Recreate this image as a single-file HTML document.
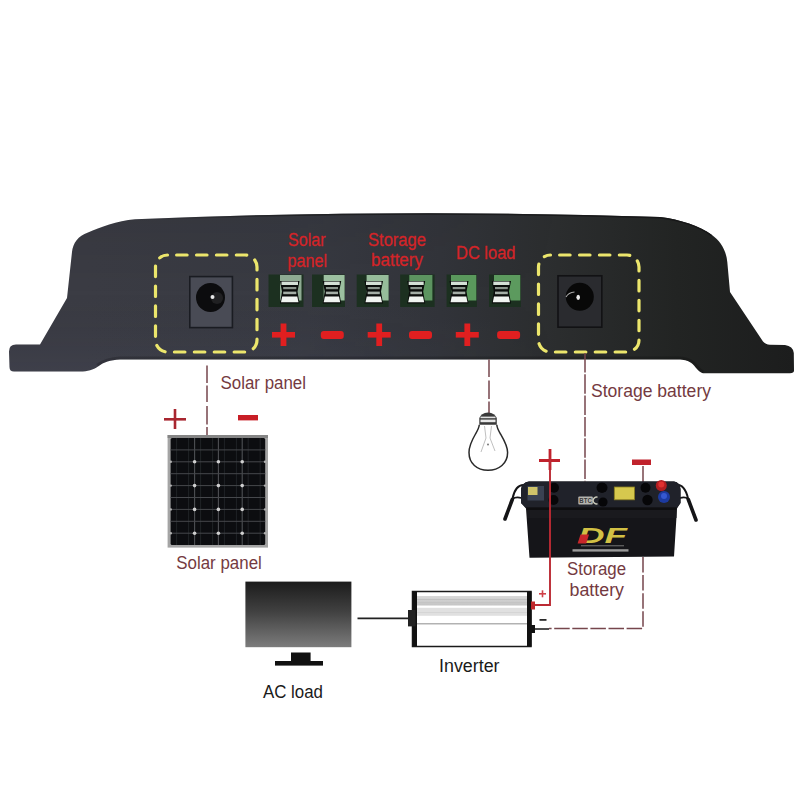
<!DOCTYPE html>
<html><head><meta charset="utf-8">
<style>
html,body{margin:0;padding:0;background:#fff;width:800px;height:800px;overflow:hidden}
svg{display:block}
text{font-family:"Liberation Sans",sans-serif}
</style></head>
<body>
<svg width="800" height="800" viewBox="0 0 800 800">
<defs>
<clipPath id="bodyclip"><path d="M9.5 367 L9 351.5 Q9 344.5 16 344.5 L40 344.5 L67 298 L72 252 C73 243 78 236 88 232.5 C100 227 117 221 135 219.2 Q400 208.5 660 217 C680 219.5 700 226 712 235 C720 241 726 249 727.3 262 L730 292 L763 341.5 Q765.5 344.6 770 344.7 L785 345 Q793 346 793.8 353 L794 370.5 Q794 373.3 790 373.3 L703 373.3 C698 372 695.5 366 691 362.8 C687.5 360.4 684 359.6 678 359.5 L120 359.5 C110 360 104 362 98 366.5 C93 370 88 371.5 80 371.5 L14 371.5 Q9.5 371.5 9.5 367 Z"/></clipPath>
<linearGradient id="bodyg" x1="0" y1="0" x2="1" y2="0">
<stop offset="0.1" stop-color="#3b3c44"/>
<stop offset="0.38" stop-color="#383a42"/>
<stop offset="0.55" stop-color="#32343a"/>
<stop offset="0.7" stop-color="#2b2d2e"/>
<stop offset="0.85" stop-color="#222423"/>
<stop offset="1" stop-color="#1c1d1d"/>
</linearGradient>
<linearGradient id="topg" gradientUnits="userSpaceOnUse" x1="135" y1="0" x2="705" y2="0">
<stop offset="0" stop-color="#1e1f21" stop-opacity="0"/>
<stop offset="0.3" stop-color="#1e1f21" stop-opacity="0.9"/>
<stop offset="1" stop-color="#161617" stop-opacity="1"/>
</linearGradient>
<linearGradient id="bodyv" x1="0" y1="0" x2="0" y2="1">
<stop offset="0" stop-color="#000" stop-opacity="0.07"/>
<stop offset="0.5" stop-color="#000" stop-opacity="0"/>
<stop offset="1" stop-color="#6a70a0" stop-opacity="0.08"/>
</linearGradient>
<linearGradient id="lmg" gradientUnits="userSpaceOnUse" x1="0" y1="0" x2="560" y2="0">
<stop offset="0" stop-color="#fff"/><stop offset="0.5" stop-color="#fff"/><stop offset="1" stop-color="#000"/>
</linearGradient>
<mask id="leftmask" maskUnits="userSpaceOnUse" x="0" y="0" width="800" height="800"><rect width="800" height="800" fill="url(#lmg)"/></mask>
<linearGradient id="invg1" x1="0" y1="0" x2="0" y2="1">
<stop offset="0" stop-color="#d8d8d8"/><stop offset="1" stop-color="#c4c4c4"/>
</linearGradient>
<linearGradient id="mong" x1="0" y1="0" x2="0" y2="1">
<stop offset="0" stop-color="#1c1c1c"/>
<stop offset="0.45" stop-color="#404040"/>
<stop offset="1" stop-color="#7c7c7c"/>
</linearGradient>
<linearGradient id="termg" x1="0" y1="0" x2="0" y2="1">
<stop offset="0" stop-color="#e8ece8"/>
<stop offset="1" stop-color="#9aa09a"/>
</linearGradient>
</defs>
<rect width="800" height="800" fill="#fff"/>

<!-- controller body -->
<path d="M9.5 367 L9 351.5 Q9 344.5 16 344.5 L40 344.5 L67 298 L72 252 C73 243 78 236 88 232.5 C100 227 117 221 135 219.2 Q400 208.5 660 217 C680 219.5 700 226 712 235 C720 241 726 249 727.3 262 L730 292 L763 341.5 Q765.5 344.6 770 344.7 L785 345 Q793 346 793.8 353 L794 370.5 Q794 373.3 790 373.3 L703 373.3 C698 372 695.5 366 691 362.8 C687.5 360.4 684 359.6 678 359.5 L120 359.5 C110 360 104 362 98 366.5 C93 370 88 371.5 80 371.5 L14 371.5 Q9.5 371.5 9.5 367 Z" fill="url(#bodyg)"/>
<path d="M9.5 367 L9 351.5 Q9 344.5 16 344.5 L40 344.5 L67 298 L72 252 C73 243 78 236 88 232.5 C100 227 117 221 135 219.2 Q400 208.5 660 217 C680 219.5 700 226 712 235 C720 241 726 249 727.3 262 L730 292 L763 341.5 Q765.5 344.6 770 344.7 L785 345 Q793 346 793.8 353 L794 370.5 Q794 373.3 790 373.3 L703 373.3 C698 372 695.5 366 691 362.8 C687.5 360.4 684 359.6 678 359.5 L120 359.5 C110 360 104 362 98 366.5 C93 370 88 371.5 80 371.5 L14 371.5 Q9.5 371.5 9.5 367 Z" fill="url(#bodyv)" mask="url(#leftmask)"/>
<path d="M98 366.5 C104 362 110 360 120 359.5 L678 359.5 C684 359.6 687.5 360.4 691 362.8 C695.5 366 698 372 703 373.3" fill="none" stroke="#000" stroke-opacity="0.18" stroke-width="6" clip-path="url(#bodyclip)"/>
<path d="M135 219.2 Q400 208.5 660 217 C680 219.5 700 226 712 235" fill="none" stroke="url(#topg)" stroke-width="3" clip-path="url(#bodyclip)"/>

<!-- yellow dashed boxes -->
<rect x="155.5" y="255" width="101.5" height="97" rx="12" fill="none" stroke="#ece66c" stroke-width="3.2" stroke-linecap="round" stroke-dasharray="10.5 9.41" stroke-dashoffset="10.8"/>
<rect x="538.5" y="255" width="100.5" height="97" rx="12" fill="none" stroke="#ece66c" stroke-width="3.2" stroke-linecap="round" stroke-dasharray="10.5 9.41" stroke-dashoffset="10.8"/>

<!-- DC jacks -->
<rect x="189.8" y="276.6" width="42.6" height="51" fill="#494b55" stroke="#1a1c22" stroke-width="1.6"/>
<circle cx="210.5" cy="297.5" r="14.5" fill="#0c0c0e"/>
<circle cx="217" cy="298" r="6" fill="#202022"/>
<circle cx="212.5" cy="297" r="2" fill="#e8e8e8"/>
<rect x="558" y="275.8" width="43.8" height="51.4" fill="#2a2b2f" stroke="#121214" stroke-width="1.6"/>
<circle cx="579.8" cy="296.8" r="14" fill="#080808"/>
<ellipse cx="578.2" cy="297.3" rx="1.8" ry="2.6" fill="#ececec"/>
<path d="M566 297 Q568.5 292.5 574.5 292" stroke="#a8a8a8" stroke-width="1.1" fill="none"/>

<!-- terminals -->
<g id="terms">
<rect x="268.5" y="274.5" width="35.0" height="32.5" fill="#1c3020"/>
<rect x="280" y="275" width="21.5" height="25.5" fill="#8eaa92"/>
<path d="M280.0 281 H299.5 L297.5 291.5 L299.5 303.5 H280.0 L282.0 291.5 Z" fill="#0a0d0b"/>
<rect x="281.5" y="281.6" width="16.5" height="3.4" fill="#d4e0d6"/>
<rect x="283.2" y="287" width="13.1" height="2.2" fill="#8a948c"/>
<rect x="283.2" y="291.6" width="13.1" height="2.6" fill="#a4aea6"/>
<path d="M282.2 296.4 H297.3 L298.5 302.2 H281.0 Z" fill="#f0f4f0"/>
<rect x="312" y="274.5" width="33.0" height="32.5" fill="#1c3020"/>
<rect x="323.7" y="275" width="20.9" height="25.5" fill="#9cc0a0"/>
<path d="M322.7 281 H341.2 L339.2 291.5 L341.2 303.5 H322.7 L324.7 291.5 Z" fill="#0a0d0b"/>
<rect x="324.2" y="281.6" width="15.5" height="3.4" fill="#d4e0d6"/>
<rect x="325.9" y="287" width="12.1" height="2.2" fill="#8a948c"/>
<rect x="325.9" y="291.6" width="12.1" height="2.6" fill="#a4aea6"/>
<path d="M324.9 296.4 H339.0 L340.2 302.2 H323.7 Z" fill="#f0f4f0"/>
<rect x="356.7" y="274.5" width="31.9" height="32.5" fill="#1c3020"/>
<rect x="366.6" y="275" width="22.0" height="25.5" fill="#96bc9a"/>
<path d="M364.5 281 H383.0 L381.0 291.5 L383.0 303.5 H364.5 L366.5 291.5 Z" fill="#0a0d0b"/>
<rect x="366.0" y="281.6" width="15.5" height="3.4" fill="#d4e0d6"/>
<rect x="367.7" y="287" width="12.1" height="2.2" fill="#8a948c"/>
<rect x="367.7" y="291.6" width="12.1" height="2.6" fill="#a4aea6"/>
<path d="M366.7 296.4 H380.8 L382.0 302.2 H365.5 Z" fill="#f0f4f0"/>
<rect x="400.2" y="274.5" width="34.4" height="32.5" fill="#1c3020"/>
<rect x="409.3" y="275" width="23.1" height="25.5" fill="#5c9460"/>
<path d="M407.2 281 H425.2 L423.2 291.5 L425.2 303.5 H407.2 L409.2 291.5 Z" fill="#0a0d0b"/>
<rect x="408.7" y="281.6" width="15.0" height="3.4" fill="#d4e0d6"/>
<rect x="410.4" y="287" width="11.6" height="2.2" fill="#8a948c"/>
<rect x="410.4" y="291.6" width="11.6" height="2.6" fill="#a4aea6"/>
<path d="M409.4 296.4 H423.0 L424.2 302.2 H408.2 Z" fill="#f0f4f0"/>
<rect x="446.6" y="274.5" width="30.3" height="32.5" fill="#1c3020"/>
<rect x="451" y="275" width="25.3" height="25.5" fill="#5a985c"/>
<path d="M449.5 281 H468.5 L466.5 291.5 L468.5 303.5 H449.5 L451.5 291.5 Z" fill="#0a0d0b"/>
<rect x="451.0" y="281.6" width="16.0" height="3.4" fill="#d4e0d6"/>
<rect x="452.7" y="287" width="12.6" height="2.2" fill="#8a948c"/>
<rect x="452.7" y="291.6" width="12.6" height="2.6" fill="#a4aea6"/>
<path d="M451.7 296.4 H466.3 L467.5 302.2 H450.5 Z" fill="#f0f4f0"/>
<rect x="489" y="274.5" width="31.9" height="32.5" fill="#1c3020"/>
<rect x="494" y="275" width="26.3" height="25.5" fill="#5c9a5e"/>
<path d="M491.8 281 H511.0 L509.0 291.5 L511.0 303.5 H491.8 L493.8 291.5 Z" fill="#0a0d0b"/>
<rect x="493.3" y="281.6" width="16.2" height="3.4" fill="#d4e0d6"/>
<rect x="495.0" y="287" width="12.8" height="2.2" fill="#8a948c"/>
<rect x="495.0" y="291.6" width="12.8" height="2.6" fill="#a4aea6"/>
<path d="M494.0 296.4 H508.8 L510.0 302.2 H492.8 Z" fill="#f0f4f0"/>
</g>

<!-- controller labels -->
<g fill="#d42428" stroke="#d42428" stroke-width="0.3" font-size="18">
<text x="288" y="245.5" textLength="37.5" lengthAdjust="spacingAndGlyphs">Solar</text>
<text x="287.5" y="266.5" textLength="39.5" lengthAdjust="spacingAndGlyphs">panel</text>
<text x="368" y="245.5" textLength="58" lengthAdjust="spacingAndGlyphs">Storage</text>
<text x="371" y="266" textLength="52" lengthAdjust="spacingAndGlyphs">battery</text>
<text x="456" y="258.5" textLength="59.5" lengthAdjust="spacingAndGlyphs">DC load</text>
</g>

<!-- plus/minus on controller -->
<g fill="#e01f20">
<rect x="272.0" y="332" width="23" height="5.6"/><rect x="280.6" y="323.5" width="5.8" height="22.5"/>
<rect x="367.7" y="332" width="23" height="5.6"/><rect x="376.3" y="323.5" width="5.8" height="22.5"/>
<rect x="455.8" y="332" width="23" height="5.6"/><rect x="464.4" y="323.5" width="5.8" height="22.5"/>
<rect x="320.8" y="331" width="23" height="8" rx="3"/>
<rect x="409.0" y="331" width="23" height="8" rx="3"/>
<rect x="497.1" y="331" width="23" height="8" rx="3"/>
</g>

<!-- annotation dashed lines -->
<g stroke="#76464c" stroke-width="1.5" fill="none">
<path d="M207 365.5 V383 M207 385.5 V402 M207 406 V424.5 M207 427 V438"/>
<path d="M489 359.5 V377 M489 380.5 V399 M489 401.5 V413"/>
<path d="M585 353 V481.5" stroke-dasharray="19.5 1.8"/>
<path d="M643 466 V482"/>
<path d="M643 557 V628.5 H549" stroke-dasharray="15.5 2.6"/>
</g>
<!-- annotation text -->
<g fill="#743a41" font-size="17.5">
<text x="220.5" y="389.3" textLength="85.5" lengthAdjust="spacingAndGlyphs">Solar panel</text>
<text x="591" y="396.8" textLength="120" lengthAdjust="spacingAndGlyphs">Storage battery</text>
<text x="176.3" y="569" textLength="85.5" lengthAdjust="spacingAndGlyphs">Solar panel</text>
<text x="567" y="574.5" textLength="59" lengthAdjust="spacingAndGlyphs">Storage</text>
<text x="569.5" y="595.5" textLength="54.5" lengthAdjust="spacingAndGlyphs">battery</text>
</g>
<g fill="#1a1a1a" font-size="17.5">
<text x="439" y="671.5" textLength="60.5" lengthAdjust="spacingAndGlyphs">Inverter</text>
<text x="263" y="698" textLength="60" lengthAdjust="spacingAndGlyphs">AC load</text>
</g>

<!-- solar panel +/- -->
<g fill="#a82630">
<rect x="164" y="418" width="22" height="2.6"/><rect x="173.7" y="409" width="2.6" height="20"/>
<rect x="238" y="415" width="20" height="5.4" fill="#c81e26"/>
</g>
<!-- battery +/- -->
<g fill="#c0222c">
<rect x="539" y="459" width="21" height="3"/><rect x="548.6" y="449" width="2.8" height="21"/>
<rect x="632" y="459.5" width="19" height="5.5"/>
</g>

<!-- solar panel -->
<g id="panel">
<rect x="167.6" y="435" width="100.4" height="112.6" fill="#a4a4a4"/>
<rect x="167.6" y="435" width="100.4" height="3" fill="#858585"/>
<rect x="170.6" y="438" width="94.6" height="107" rx="1.5" fill="#0c0d10"/>
<line x1="176.6" y1="438" x2="176.6" y2="545" stroke="#25282c" stroke-width="0.8"/>
<line x1="188.6" y1="438" x2="188.6" y2="545" stroke="#25282c" stroke-width="0.8"/>
<line x1="200.6" y1="438" x2="200.6" y2="545" stroke="#25282c" stroke-width="0.8"/>
<line x1="212.6" y1="438" x2="212.6" y2="545" stroke="#25282c" stroke-width="0.8"/>
<line x1="224.4" y1="438" x2="224.4" y2="545" stroke="#25282c" stroke-width="0.8"/>
<line x1="236.4" y1="438" x2="236.4" y2="545" stroke="#25282c" stroke-width="0.8"/>
<line x1="248.2" y1="438" x2="248.2" y2="545" stroke="#25282c" stroke-width="0.8"/>
<line x1="260.2" y1="438" x2="260.2" y2="545" stroke="#25282c" stroke-width="0.8"/>
<line x1="194.6" y1="438" x2="194.6" y2="545" stroke="#4e5054" stroke-width="1.1"/>
<line x1="218.4" y1="438" x2="218.4" y2="545" stroke="#4e5054" stroke-width="1.1"/>
<line x1="242.2" y1="438" x2="242.2" y2="545" stroke="#4e5054" stroke-width="1.1"/>
<line x1="170.6" y1="449.9" x2="265.2" y2="449.9" stroke="#46484c" stroke-width="1"/>
<line x1="170.6" y1="461.8" x2="265.2" y2="461.8" stroke="#46484c" stroke-width="1"/>
<line x1="170.6" y1="473.7" x2="265.2" y2="473.7" stroke="#46484c" stroke-width="1"/>
<line x1="170.6" y1="485.6" x2="265.2" y2="485.6" stroke="#46484c" stroke-width="1"/>
<line x1="170.6" y1="497.5" x2="265.2" y2="497.5" stroke="#46484c" stroke-width="1"/>
<line x1="170.6" y1="509.4" x2="265.2" y2="509.4" stroke="#46484c" stroke-width="1"/>
<line x1="170.6" y1="521.3" x2="265.2" y2="521.3" stroke="#46484c" stroke-width="1"/>
<line x1="170.6" y1="533.2" x2="265.2" y2="533.2" stroke="#46484c" stroke-width="1"/>
<circle cx="194.6" cy="461.8" r="1.8" fill="#d0d0d0"/>
<circle cx="218.4" cy="461.8" r="1.8" fill="#d0d0d0"/>
<circle cx="242.2" cy="461.8" r="1.8" fill="#d0d0d0"/>
<circle cx="170.8" cy="461.8" r="1.2" fill="#b0b0b0"/>
<circle cx="265" cy="461.8" r="1.2" fill="#b0b0b0"/>
<circle cx="194.6" cy="485.6" r="1.8" fill="#d0d0d0"/>
<circle cx="218.4" cy="485.6" r="1.8" fill="#d0d0d0"/>
<circle cx="242.2" cy="485.6" r="1.8" fill="#d0d0d0"/>
<circle cx="170.8" cy="485.6" r="1.2" fill="#b0b0b0"/>
<circle cx="265" cy="485.6" r="1.2" fill="#b0b0b0"/>
<circle cx="194.6" cy="509.4" r="1.8" fill="#d0d0d0"/>
<circle cx="218.4" cy="509.4" r="1.8" fill="#d0d0d0"/>
<circle cx="242.2" cy="509.4" r="1.8" fill="#d0d0d0"/>
<circle cx="170.8" cy="509.4" r="1.2" fill="#b0b0b0"/>
<circle cx="265" cy="509.4" r="1.2" fill="#b0b0b0"/>
<circle cx="194.6" cy="533.2" r="1.8" fill="#d0d0d0"/>
<circle cx="218.4" cy="533.2" r="1.8" fill="#d0d0d0"/>
<circle cx="242.2" cy="533.2" r="1.8" fill="#d0d0d0"/>
<circle cx="170.8" cy="533.2" r="1.2" fill="#b0b0b0"/>
<circle cx="265" cy="533.2" r="1.2" fill="#b0b0b0"/>
</g>

<!-- bulb -->
<g id="bulb">
<path d="M479.3 424.7 C479 428 477.5 430.5 475.5 434 C472 440 469 446 469 452.5 C469 463.5 477 470.3 488 470.3 C499 470.3 507.6 463.5 507.6 452.5 C507.6 446 504 440 500.5 434 C498.5 430.5 497 428 496.8 424.7" fill="#fff" stroke="#2a2a2a" stroke-width="1.5"/>
<g stroke="#b8b8b8" stroke-width="0.9" fill="none">
<path d="M484.5 426 L486 438 L481 452"/><path d="M491.5 426 L490 438 L495 451"/>
</g>
<circle cx="488" cy="444.4" r="1" fill="#777"/>
<path d="M479.3 424.7 L479.3 418 Q481 413 488 412.4 Q495 413 496.8 418 L496.8 424.7 Z" fill="#3a3a3a"/>
<rect x="480.5" y="416.6" width="15" height="1.6" fill="#e0e0e0"/>
<rect x="480.5" y="419.6" width="15" height="2.6" fill="#e8e8e8"/>
</g>

<!-- battery -->
<g id="battery">
<g fill="none" stroke="#151517" stroke-linecap="round">
<path d="M525 485 C518 484 514.5 489 512.5 498.5" stroke-width="2"/>
<path d="M512.5 499 C515 497 518 497 521.5 498" stroke-width="1.8"/>
<path d="M512.3 499.5 L505 519" stroke-width="3.6"/>
<path d="M675 484.5 C682 484 686 489 688 498.5" stroke-width="2"/>
<path d="M688 499 C686 497 683 497 680 498" stroke-width="1.8"/>
<path d="M688.3 499.5 L696 520" stroke-width="3.6"/>
</g>
<path d="M529 481.5 L674 481.5 Q680 482.5 680.5 489 L680.5 503 L677 508.5 L674 556.5 L529.5 557.8 L526 508.5 L521 503 L521 489 Q522 482.5 529 481.5 Z" fill="#151519"/>
<path d="M529 481.5 L674 481.5 Q680 482.5 680.5 489 L680.5 503 L677 507.5 L526 507.5 L521 503 L521 489 Q522 482.5 529 481.5 Z" fill="#20222a"/>
<rect x="526.5" y="507.5" width="150" height="2.5" fill="#0e0e10"/>
<rect x="527" y="510" width="149.5" height="8" fill="#1a1a1e"/>
<rect x="527.5" y="486" width="16.5" height="14.5" fill="#3a4252"/>
<rect x="528" y="487" width="9.5" height="8" fill="#cfc46a"/>
<g fill="#060608">
<circle cx="554" cy="487.8" r="5"/><circle cx="553.5" cy="500" r="5"/>
<circle cx="601.5" cy="487.8" r="5"/><circle cx="603" cy="502" r="4.6"/>
<circle cx="645.5" cy="487.8" r="5"/><circle cx="647.5" cy="500" r="5.2"/>
<circle cx="602.5" cy="487.8" r="5"/>
</g>
<rect x="614.3" y="487" width="20.2" height="12.8" fill="#d6c84e" stroke="#8a7e20" stroke-width="0.8"/>
<rect x="578.3" y="496.6" width="14.5" height="7.8" rx="1" fill="#b4b4b0"/>
<text x="579.3" y="503.3" font-size="7.5" font-weight="bold" fill="#3a3a3a" textLength="12.5" lengthAdjust="spacingAndGlyphs">BTC</text>
<path d="M597.5 497.2 A3.6 3.4 0 1 0 597.5 503.8" fill="none" stroke="#c8c8b8" stroke-width="1.5"/>
<circle cx="661.3" cy="485.5" r="5.5" fill="#b01e22"/>
<circle cx="661.3" cy="484.5" r="3" fill="#e03030"/>
<circle cx="664" cy="497" r="6" fill="#1c3aa0"/>
<circle cx="664" cy="496" r="3" fill="#3558d0"/>
<text x="578" y="543.3" font-size="22.5" font-weight="bold" font-style="italic" fill="#d2c044" textLength="49" lengthAdjust="spacingAndGlyphs">DF</text>
<path d="M580.5 534.5 L589 534.5 L586.2 543.4 L577.6 543.4 Z" fill="#c8262a"/>
<rect x="581" y="545" width="43" height="1.4" fill="#5a5a5a"/>
<rect x="572.5" y="549.2" width="56" height="2.4" fill="#9a9a9a"/>
</g>

<path d="M550 458 V605 H535" stroke="#bb2a34" stroke-width="1.9" fill="none"/>
<!-- monitor -->
<rect x="245.4" y="581.6" width="106" height="65.6" fill="url(#mong)"/>
<rect x="291" y="652.5" width="19.6" height="9" fill="#111"/>
<rect x="275" y="661" width="48" height="4.6" fill="#111"/>
<path d="M357.5 618.4 H410" stroke="#222" stroke-width="1.6"/>

<!-- inverter -->
<g id="inverter">
<rect x="412.5" y="591.5" width="118.5" height="55" fill="#fff" stroke="#1a1a1a" stroke-width="1.5"/>
<rect x="417" y="596" width="110" height="9.5" fill="url(#invg1)"/>
<rect x="417" y="599" width="110" height="0.8" fill="#bdbdbd"/>
<rect x="417" y="602" width="110" height="0.8" fill="#c2c2c2"/>
<rect x="417" y="607.8" width="110" height="8" fill="#e0e0e0"/>
<rect x="417" y="612" width="110" height="0.7" fill="#d0d0d0"/>
<rect x="417" y="623.2" width="110" height="1.2" fill="#a0a0a0"/>
<rect x="412.5" y="591.5" width="4.5" height="55" fill="#111"/>
<rect x="527" y="591.5" width="4.5" height="55" fill="#111"/>
<rect x="408" y="610" width="7.6" height="16.4" fill="#222"/>
<rect x="531" y="601.5" width="4" height="8" fill="#c0282c"/>
<rect x="531" y="625" width="4" height="8" fill="#111"/>
<path d="M535 629 H549" stroke="#222" stroke-width="1.6"/>
<rect x="539" y="593" width="7" height="1.6" fill="#d04048"/><rect x="541.7" y="590.3" width="1.6" height="7" fill="#d04048"/>
<rect x="539.5" y="619" width="7" height="1.8" fill="#2a2a2a"/>
</g>
</svg>
</body></html>
